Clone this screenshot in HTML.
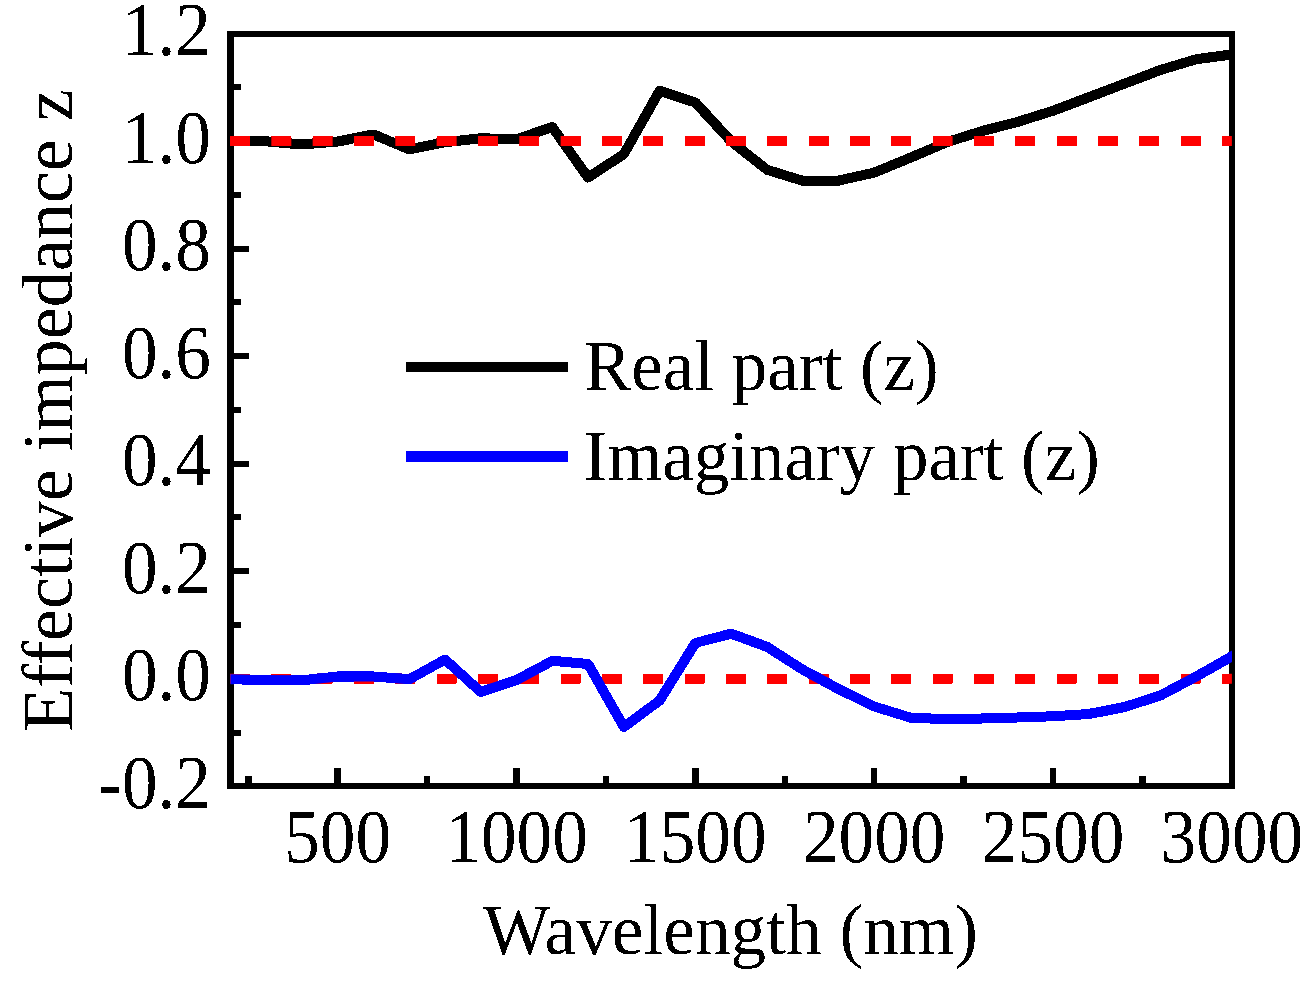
<!DOCTYPE html>
<html><head><meta charset="utf-8"><style>
html,body{margin:0;padding:0;background:#fff;}
svg{display:block;}
</style></head><body>
<svg width="1314" height="989" viewBox="0 0 1314 989">
<defs><clipPath id="pa"><rect x="230.4" y="0" width="1001.6" height="989"/></clipPath>
<filter id="bin" x="0" y="0" width="1314" height="989" filterUnits="userSpaceOnUse" color-interpolation-filters="sRGB"><feComponentTransfer><feFuncA type="discrete" tableValues="0 1"/></feComponentTransfer></filter></defs>
<rect width="1314" height="989" fill="#fff"/>
<g filter="url(#bin)">
<rect x="227" y="31" width="1008" height="6" fill="#000"/>
<rect x="227" y="783" width="1008" height="6" fill="#000"/>
<rect x="227" y="31" width="7" height="758" fill="#000"/>
<rect x="1229" y="31" width="6" height="758" fill="#000"/>
<rect x="334.45" y="768" width="6.5" height="15" fill="#000"/>
<rect x="513.29" y="768" width="6.5" height="15" fill="#000"/>
<rect x="692.12" y="768" width="6.5" height="15" fill="#000"/>
<rect x="870.96" y="768" width="6.5" height="15" fill="#000"/>
<rect x="1049.79" y="768" width="6.5" height="15" fill="#000"/>
<rect x="245.03" y="776" width="6.5" height="7" fill="#000"/>
<rect x="423.87" y="776" width="6.5" height="7" fill="#000"/>
<rect x="602.70" y="776" width="6.5" height="7" fill="#000"/>
<rect x="781.54" y="776" width="6.5" height="7" fill="#000"/>
<rect x="960.37" y="776" width="6.5" height="7" fill="#000"/>
<rect x="1139.21" y="776" width="6.5" height="7" fill="#000"/>
<rect x="234" y="675.80" width="15" height="6" fill="#000"/>
<rect x="234" y="568.24" width="15" height="6" fill="#000"/>
<rect x="234" y="460.68" width="15" height="6" fill="#000"/>
<rect x="234" y="353.12" width="15" height="6" fill="#000"/>
<rect x="234" y="245.56" width="15" height="6" fill="#000"/>
<rect x="234" y="138.00" width="15" height="6" fill="#000"/>
<rect x="234" y="729.58" width="7" height="6" fill="#000"/>
<rect x="234" y="622.02" width="7" height="6" fill="#000"/>
<rect x="234" y="514.46" width="7" height="6" fill="#000"/>
<rect x="234" y="406.90" width="7" height="6" fill="#000"/>
<rect x="234" y="299.34" width="7" height="6" fill="#000"/>
<rect x="234" y="191.78" width="7" height="6" fill="#000"/>
<rect x="234" y="84.22" width="7" height="6" fill="#000"/>
<polyline points="230.40,141.20 266.17,141.30 301.93,144.60 337.70,141.50 373.47,134.40 409.24,149.40 445.00,142.20 480.77,138.30 516.54,139.30 552.30,127.10 588.07,177.50 623.84,154.10 659.60,90.70 695.37,102.50 731.14,141.30 766.90,169.70 802.67,180.70 838.44,180.70 874.21,172.70 909.97,157.80 945.74,142.60 981.51,131.20 1017.27,122.00 1053.04,110.70 1088.81,97.30 1124.58,83.70 1160.34,70.00 1196.11,59.30 1231.88,54.40" fill="none" stroke="#000" stroke-width="10" stroke-linejoin="round" stroke-linecap="square" clip-path="url(#pa)"/>
<line x1="230" y1="141.00" x2="1231.88" y2="141.00" stroke="#ff0000" stroke-width="10" stroke-dasharray="20 21.33"/>
<line x1="230" y1="678.80" x2="1231.88" y2="678.80" stroke="#ff0000" stroke-width="10" stroke-dasharray="20 21.33"/>
<polyline points="230.40,679.30 266.17,680.00 301.93,680.30 337.70,676.50 373.47,676.50 409.24,679.30 445.00,659.50 480.77,692.00 516.54,680.00 552.30,660.80 588.07,664.00 623.84,727.00 659.60,700.50 695.37,643.00 731.14,633.70 766.90,646.80 802.67,669.60 838.44,689.00 874.21,706.50 909.97,717.50 945.74,719.30 981.51,718.50 1017.27,717.50 1053.04,716.30 1088.81,714.00 1124.58,707.00 1160.34,695.50 1196.11,676.60 1231.88,656.40" fill="none" stroke="#0000ff" stroke-width="10" stroke-linejoin="round" stroke-linecap="square" clip-path="url(#pa)"/>
<text transform="translate(211.00,807.86) scale(1,1.07)" font-family="'Liberation Serif', serif" font-size="71.3" text-anchor="end">-0.2</text>
<text transform="translate(211.00,700.30) scale(1,1.07)" font-family="'Liberation Serif', serif" font-size="71.3" text-anchor="end">0.0</text>
<text transform="translate(211.00,592.74) scale(1,1.07)" font-family="'Liberation Serif', serif" font-size="71.3" text-anchor="end">0.2</text>
<text transform="translate(211.00,485.18) scale(1,1.07)" font-family="'Liberation Serif', serif" font-size="71.3" text-anchor="end">0.4</text>
<text transform="translate(211.00,377.62) scale(1,1.07)" font-family="'Liberation Serif', serif" font-size="71.3" text-anchor="end">0.6</text>
<text transform="translate(211.00,270.06) scale(1,1.07)" font-family="'Liberation Serif', serif" font-size="71.3" text-anchor="end">0.8</text>
<text transform="translate(211.00,162.50) scale(1,1.07)" font-family="'Liberation Serif', serif" font-size="71.3" text-anchor="end">1.0</text>
<text transform="translate(211.00,54.94) scale(1,1.07)" font-family="'Liberation Serif', serif" font-size="71.3" text-anchor="end">1.2</text>
<text transform="translate(337.70,861.50) scale(1,1.07)" font-family="'Liberation Serif', serif" font-size="71.3" text-anchor="middle">500</text>
<text transform="translate(516.54,861.50) scale(1,1.07)" font-family="'Liberation Serif', serif" font-size="71.3" text-anchor="middle">1000</text>
<text transform="translate(695.37,861.50) scale(1,1.07)" font-family="'Liberation Serif', serif" font-size="71.3" text-anchor="middle">1500</text>
<text transform="translate(874.21,861.50) scale(1,1.07)" font-family="'Liberation Serif', serif" font-size="71.3" text-anchor="middle">2000</text>
<text transform="translate(1053.04,861.50) scale(1,1.07)" font-family="'Liberation Serif', serif" font-size="71.3" text-anchor="middle">2500</text>
<text transform="translate(1231.88,861.50) scale(1,1.07)" font-family="'Liberation Serif', serif" font-size="71.3" text-anchor="middle">3000</text>
<text transform="translate(730.50,954.50) scale(1,1.02)" font-family="'Liberation Serif', serif" font-size="71.3" text-anchor="middle">Wavelength (nm)</text>
<text transform="translate(72,410.5) rotate(-90) scale(1,1.0)" font-family="'Liberation Serif', serif" font-size="72" text-anchor="middle">Effective impedance z</text>
<rect x="406" y="362" width="162" height="10" fill="#000"/>
<rect x="406" y="451" width="162" height="10.5" fill="#0000ff"/>
<text transform="translate(584.00,390.00) scale(1,1.02)" font-family="'Liberation Serif', serif" font-size="71.0" text-anchor="start">Real part (z)</text>
<text transform="translate(583.50,480.00) scale(1,1.02)" font-family="'Liberation Serif', serif" font-size="71.0" text-anchor="start">Imaginary part (z)</text>
</g>
</svg>
</body></html>
